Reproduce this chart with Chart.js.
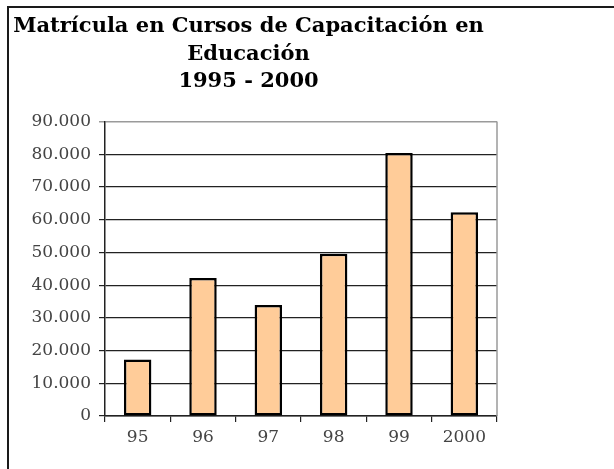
<!DOCTYPE html>
<html>
<head>
<meta charset="utf-8">
<script src="https://cdn.jsdelivr.net/npm/chart.js@4.4.0/dist/chart.umd.min.js"></script>
<style>
  html, body { margin: 0; padding: 0; background: #fff; width: 614px; height: 469px; overflow: hidden; }
  #frame { position: absolute; left: 7px; top: 6px; width: 700px; height: 600px; border: 2px solid #1a1a1a; box-sizing: border-box; }
  #wrap { position: absolute; left: 0; top: 0; width: 500px; height: 469px; }
</style>
</head>
<body>
<div id="frame"></div>
<div id="wrap"><canvas id="c"></canvas></div>
<script>
const categories = ['95', '96', '97', '98', '99', '2000'];
const enrollment = [17300, 42200, 33900, 49600, 80400, 62300];
const titleLines = ['Matrícula en Cursos de Capacitación en', 'Educación', '1995 - 2000'];
const yTicks = [0, 10000, 20000, 30000, 40000, 50000, 60000, 70000, 80000, 90000];

function fmt(v) {
  return String(v).replace(/\B(?=(\d{3})+(?!\d))/g, '.');
}

const rightBorder = {
  id: 'rightBorder',
  afterDraw(chart) {
    const { ctx, chartArea } = chart;
    ctx.save();
    ctx.strokeStyle = '#9a9a9a';
    ctx.lineWidth = 1.5;
    ctx.beginPath();
    ctx.moveTo(chartArea.right, chartArea.top);
    ctx.lineTo(chartArea.right, chartArea.bottom);
    ctx.stroke();
    ctx.restore();
  }
};

new Chart(document.getElementById('c'), {
  type: 'bar',
  data: {
    labels: categories,
    datasets: [{
      data: enrollment,
      backgroundColor: '#FFCC99',
      borderColor: '#000000',
      borderWidth: 2.5,
      borderSkipped: false,
      categoryPercentage: 1,
      barPercentage: 0.42
    }]
  },
  options: {
    responsive: true,
    maintainAspectRatio: false,
    animation: false,
    layout: { padding: { left: 0, right: 3, top: 0, bottom: 0 } },
    plugins: {
      legend: { display: false },
      tooltip: { enabled: false },
      title: {
        display: true,
        text: titleLines,
        color: '#000',
        font: { family: '"DejaVu Serif", serif', size: 21, weight: 'bold', lineHeight: 1.31 },
        padding: { top: 13, bottom: 26 }
      }
    },
    scales: {
      x: {
        grid: { offset: true, drawOnChartArea: false, drawTicks: true, tickLength: 6, color: '#222', lineWidth: 1.2 },
        border: { display: true, color: '#222', width: 1.5 },
        ticks: { color: '#444', font: { family: '"DejaVu Serif", serif', size: 17 }, padding: 5 },
        afterFit(s) { s.height = 53; }
      },
      y: {
        min: 0, max: 90000,
        afterBuildTicks(s) { s.ticks = yTicks.map(v => ({ value: v })); },
        grid: {
          drawTicks: true, tickLength: 6,
          color: ctx => (ctx.tick && ctx.tick.value === 90000) ? '#9a9a9a' : '#222',
          lineWidth: ctx => (ctx.tick && ctx.tick.value === 90000) ? 1.5 : 1.2
        },
        border: { display: true, color: '#222', width: 1.5 },
        ticks: { color: '#444', font: { family: '"DejaVu Serif", serif', size: 17 }, padding: 8, callback: v => fmt(v) },
        afterFit(s) { s.width = 105; }
      }
    }
  },
  plugins: [rightBorder]
});
</script>
</body>
</html>
